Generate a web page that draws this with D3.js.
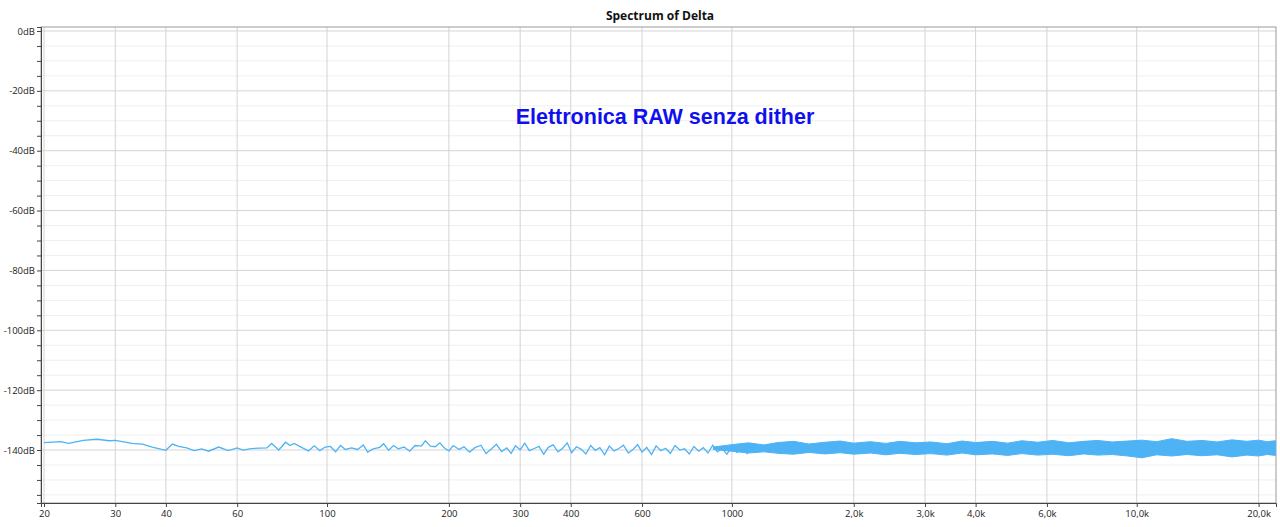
<!DOCTYPE html>
<html><head><meta charset="utf-8">
<script src="https://cdn.jsdelivr.net/npm/d3@7"></script>
<style>
body{margin:0;background:#fff;font-family:"Open Sans","Noto Sans",sans-serif}
</style></head><body>
<svg id="chart" width="1280" height="527"></svg>
<script>
// tick values
const xTicks = [20, 30, 40, 60, 100, 200, 300, 400, 600, 1000, 2000, 3000, 4000, 6000, 10000, 20000];
const yMajor = [0, -20, -40, -60, -80, -100, -120, -140];

// spectrum below 1 kHz (Hz, dB)
const freqs = [20, 22, 23, 25, 27, 29, 30, 33, 35, 37, 40, 41.5, 43, 45, 47, 49, 51, 54, 57, 60,
  62, 65, 68, 71, 73, 76, 79, 81, 83, 87, 90, 93, 96, 99, 102, 105, 108, 111, 115, 119,
  123, 126, 130, 135, 138, 142, 146, 150, 155, 160, 165, 171, 175, 180, 185, 190, 195, 200, 205, 212,
  218, 225, 232, 240, 247, 255, 262, 270, 278, 285, 292, 300, 308, 316, 325, 334, 343, 352, 362, 372,
  382, 392, 402, 413, 424, 436, 448, 460, 472, 485, 498, 512, 526, 540, 555, 570, 585, 600, 616, 633,
  650, 668, 686, 705, 724, 744, 764, 785, 806, 828, 850, 873, 897, 921, 946, 972, 1000, 1030, 1060, 1090, 1120, 1160, 1200];
const levels = [-137.5, -137.2, -137.8, -136.8, -136.4, -136.9, -136.8, -137.8, -138, -139, -140.1, -138, -138.8, -139.3, -140.2, -139.6, -140.4, -139, -140.2, -139.3,
  -140, -139.5, -139.4, -139.3, -137.8, -140, -137.4, -138.5, -137.8, -139.3, -140.3, -138.6, -140.2, -139, -138.8, -140.6, -138.5, -139.8, -139.3, -139.8,
  -138.3, -140.7, -139.6, -139.1, -137.9, -140.1, -138.5, -139.6, -139, -140.4, -138.5, -138.7, -136.9, -138.7, -138.9, -137.6, -139.3, -140.3, -138.5, -139.8,
  -138.9, -140.7, -139.2, -138.4, -141.2, -139.6, -138.1, -140.5, -139.3, -141.1, -138.6, -139.9, -137.7, -140.2, -139.5, -138.8, -141.4, -139.1, -138.3, -140.6,
  -139.4, -137.6, -140.9, -138.9, -139.7, -141.3, -138.5, -140.1, -139.2, -141.6, -138.7, -140.3, -139.5, -138.4, -141.0, -139.8, -138.2, -140.7, -139.1, -141.5,
  -138.6, -140.2, -139.4, -141.1, -138.5, -140.0, -139.6, -141.3, -138.8, -140.4, -139.2, -141.0, -138.4, -140.6, -139.5, -141.4, -139.0, -140.8, -138.3, -141.2, -138.9, -140.5, -139.2];

// envelope of the dense noise band above 1 kHz (Hz, upper dB, lower dB)
const bandFreqs = [900, 1000, 1100, 1200, 1300, 1420, 1550, 1700, 1850, 2000, 2200, 2400, 2600, 2850, 3100, 3400, 3700, 4000, 4400, 4800,
  5200, 5700, 6200, 6800, 7400, 8000, 8700, 9500, 10300, 11200, 12200, 13300, 14500, 15800, 17200, 18700, 20000, 21000, 22000];
const bandTop = [-139.0, -138.2, -137.6, -138.3, -137.5, -137.1, -138.0, -137.4, -137.0, -137.7, -137.2, -137.8, -137.1, -137.6, -137.3, -137.9, -137.0, -137.5, -137.1, -137.7,
  -136.9, -137.4, -136.8, -137.6, -137.1, -136.8, -137.3, -137.0, -136.7, -137.2, -136.2, -137.1, -136.8, -137.3, -136.6, -137.1, -136.7, -137.2, -136.9];
const bandBottom = [-139.8, -140.4, -141.0, -140.6, -141.1, -141.4, -140.8, -141.3, -140.9, -141.4, -141.0, -141.6, -141.1, -141.5, -141.2, -141.7, -141.0, -141.6, -141.3, -141.8,
  -141.2, -141.7, -141.4, -141.9, -141.3, -141.7, -141.5, -142.0, -142.6, -141.6, -142.0, -141.5, -141.9, -141.6, -142.3, -141.7, -142.0, -141.5, -141.8];

const margin = {left: 41, right: 4, top: 27, bottom: 24};
const W = 1280, H = 527;
const svg = d3.select('#chart');

const x = d3.scaleLog().domain([19.66, 22080]).range([margin.left, W - margin.right]);
const y = d3.scaleLinear().domain([1.33, -157.7]).range([margin.top, H - margin.bottom]);

// Grid
const grid = svg.append('g');
grid.selectAll('line.minor')
  .data(d3.range(0, -160, -5).filter(v => v % 20 !== 0))
  .join('line')
  .attr('x1', margin.left).attr('x2', W - margin.right)
  .attr('y1', d => y(d)).attr('y2', d => y(d))
  .attr('stroke', '#efefef');
grid.selectAll('line.major')
  .data(yMajor)
  .join('line')
  .attr('x1', margin.left).attr('x2', W - margin.right)
  .attr('y1', d => y(d)).attr('y2', d => y(d))
  .attr('stroke', '#d4d4d4');
grid.selectAll('line.vert')
  .data(xTicks)
  .join('line')
  .attr('x1', d => x(d)).attr('x2', d => x(d))
  .attr('y1', margin.top).attr('y2', H - margin.bottom)
  .attr('stroke', '#d4d4d4');

// Frame
svg.append('rect')
  .attr('x', margin.left).attr('y', margin.top)
  .attr('width', W - margin.right - margin.left).attr('height', H - margin.bottom - margin.top)
  .attr('fill', 'none').attr('stroke', '#999');

// Axes
const fmtX = d => d > 1000 ? (d / 1000).toFixed(1).replace('.', ',') + 'k' : d;
const yAxis = svg.append('g')
  .attr('transform', `translate(${margin.left},0)`)
  .call(d3.axisLeft(y).tickValues(d3.range(0, -160, -5)).tickSize(4)
    .tickFormat(d => d % 20 === 0 ? d + 'dB' : ''));
const xAxis = svg.append('g')
  .attr('transform', `translate(0,${H - margin.bottom})`)
  .call(d3.axisBottom(x).tickValues(xTicks).tickSize(4).tickFormat(fmtX));
[xAxis, yAxis].forEach(a => {
  a.select('.domain').attr('stroke', '#444');
  a.selectAll('.tick line').attr('stroke', '#444');
  a.selectAll('text').attr('fill', '#222').style('font-size', '9.5px')
    .style('font-family', '"Open Sans","Noto Sans",sans-serif');
});
yAxis.selectAll('text').attr('x', -6);

// Series
const color = '#4db3f5';
const band = d3.area()
  .x((d, i) => x(bandFreqs[i]))
  .y0((d, i) => y(bandBottom[i]))
  .y1((d, i) => y(bandTop[i]));
svg.append('path').attr('d', band(bandFreqs)).attr('fill', color).attr('stroke', color).attr('stroke-width', 1);

const line = d3.line()
  .x((d, i) => x(freqs[i]))
  .y((d, i) => y(levels[i]));
svg.append('path').attr('d', line(freqs)).attr('fill', 'none').attr('stroke', color).attr('stroke-width', 1.3);

// Titles
svg.append('text').attr('x', 660).attr('y', 20).attr('text-anchor', 'middle')
  .style('font-size', '12px').style('font-weight', 'bold').attr('fill', '#111')
  .text('Spectrum of Delta');
svg.append('text').attr('x', 665).attr('y', 124).attr('text-anchor', 'middle')
  .style('font-family', '"Liberation Sans",Arial,sans-serif')
  .style('font-size', '21.5px').style('font-weight', 'bold').attr('fill', '#1010ee')
  .text('Elettronica RAW senza dither');
</script>
</body></html>
